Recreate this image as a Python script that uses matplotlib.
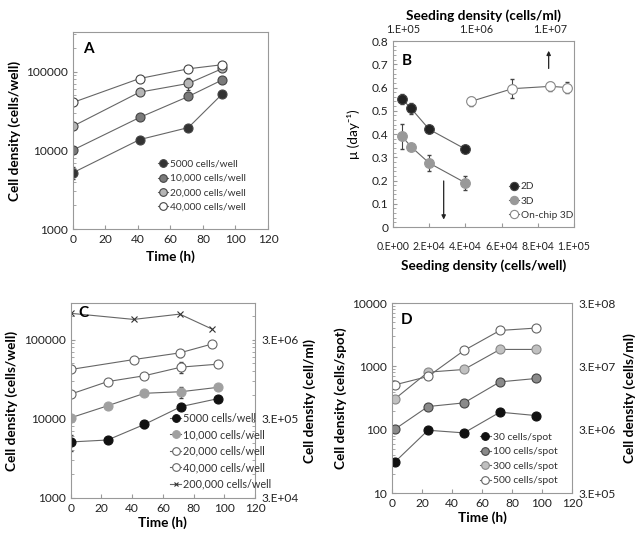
import numpy as np
import matplotlib.pyplot as plt
from matplotlib.ticker import FixedLocator, NullFormatter, LogLocator

plt.rcParams['font.family'] = ['Lato', 'DejaVu Sans']

# ---- panel A data (cells/well vs time) ----
a_labels = ["5000 cells/well", "10,000 cells/well", "20,000 cells/well", "40,000 cells/well"]
a_time = [0, 41, 71, 92]
a_5000 = [5200, 13700, 19500, 52500]
a_10000 = [10100, 26200, 48500, 79000]
a_20000 = [20300, 55000, 71000, 110000]
a_40000 = [40700, 82000, 109000, 123000]
a_err_5000 = [900, 900, 1200, 3000]
a_err_20000 = [0, 0, 12000, 0]

# ---- panel B data (growth rate vs seeding density) ----
b_x_2d = [5000, 10000, 20000, 40000]
b_y_2d = [0.55, 0.51, 0.42, 0.335]
b_e_2d = [0.02, 0.025, 0.008, 0.008]
b_x_3d = [5000, 10000, 20000, 40000]
b_y_3d = [0.39, 0.345, 0.275, 0.19]
b_e_3d = [0.055, 0.008, 0.035, 0.03]
b_x_chip = [43000, 66000, 87000, 96000]
b_y_chip = [0.54, 0.595, 0.605, 0.60]
b_e_chip = [0.02, 0.04, 0.02, 0.025]

# ---- panel C data ----
c_labels = ["5000 cells/well", "10,000 cells/well", "20,000 cells/well",
            "40,000 cells/well", "200,000 cells/well"]
c_time = [0, 24, 48, 72, 96]
c_5000 = [5100, 5400, 8500, 14300, 18000]
c_10000 = [10300, 14600, 21000, 22000, 25000]
c_20000 = [20500, 29500, 35000, 45000, 49000]
c_time2 = [0, 41, 71, 92]
c_40000 = [42000, 56000, 68000, 88000]
c_200000 = [215000, 180000, 210000, 136000]
c_err_5000 = [1200, 500, 900, 800, 800]
c_err_10000 = [0, 0, 0, 3500, 0]
c_err_20000 = [0, 0, 0, 7000, 0]
c_err_40000 = [0, 0, 7000, 0]

# ---- panel D data ----
d_labels = ["30 cells/spot", "100 cells/spot", "300 cells/spot", "500 cells/spot"]
d_time = [2, 24, 48, 72, 96]
d_30 = [31, 98, 89, 189, 167]
d_100 = [102, 232, 265, 569, 643]
d_300 = [307, 810, 892, 1850, 1850]
d_500 = [511, 692, 1780, 3690, 4020]

line_c = '#666666'
spine_c = '#999999'
tick_fs = 8.6
lab_fs = 9.8


def style(ax):
    for s in ax.spines.values():
        s.set_color(spine_c)
        s.set_linewidth(0.8)
    ax.tick_params(which='both', direction='in', color=spine_c, labelsize=tick_fs,
                   labelcolor='#222222', top=False, right=False)
    ax.tick_params(which='major', length=3)
    ax.tick_params(which='minor', length=2)


def series(ax, x, y, face, label, err=None, marker='o', ms=6.5, edge='#444444'):
    if err is not None:
        ax.errorbar(x, y, yerr=err, fmt='none', ecolor='#444444', elinewidth=0.8,
                    capsize=1.5)
    ax.plot(x, y, color=line_c, lw=0.8, marker=marker, ms=ms, mfc=face, mec=edge,
            mew=0.8, label=label)


def legend(ax, loc, anchor, fs=7.5):
    lg = ax.legend(loc=loc, bbox_to_anchor=anchor, frameon=False, fontsize=fs,
                   handlelength=1.0, handletextpad=0.2, labelspacing=0.5,
                   borderpad=0.2, markerscale=0.85)
    for t in lg.get_texts():
        t.set_color('#333333')


fig = plt.figure(figsize=(6.43, 5.41), dpi=100)

# ---------------- A ----------------
ax = fig.add_axes([0.1135, 0.5767, 0.3033, 0.3641])
series(ax, a_time, a_5000, '#333333', a_labels[0], a_err_5000)
series(ax, a_time, a_10000, '#7a7a7a', a_labels[1])
series(ax, a_time, a_20000, '#b5b5b5', a_labels[2], a_err_20000)
series(ax, a_time, a_40000, 'white', a_labels[3])
ax.set_yscale('log')
ax.set_ylim(1000, 320000)
ax.set_xlim(0, 120)
ax.set_xticks(np.arange(0, 121, 20))
ax.set_yticks([1000, 10000, 100000])
ax.set_yticklabels(['1000', '10000', '100000'])
ax.yaxis.set_minor_formatter(NullFormatter())
style(ax)
ax.set_xlabel('Time (h)', fontsize=lab_fs, fontweight='bold')
ax.set_ylabel('Cell density (cells/well)', fontsize=lab_fs, fontweight='bold')
ax.text(0.05, 0.95, 'A', transform=ax.transAxes, fontsize=11, fontweight='bold',
        va='top')
legend(ax, 'center left', (0.4, 0.22), fs=7.3)

# ---------------- B ----------------
ax = fig.add_axes([0.6112, 0.5804, 0.2815, 0.3438])
series(ax, b_x_2d, b_y_2d, '#222222', '2D', b_e_2d, ms=7)
series(ax, b_x_3d, b_y_3d, '#999999', '3D', b_e_3d, ms=7, edge='#999999')
series(ax, b_x_chip, b_y_chip, 'white', 'On-chip 3D', b_e_chip, ms=7, edge='#888888')
ax.annotate('', xy=(28000, 0.02), xytext=(28000, 0.21),
            arrowprops=dict(arrowstyle='-|>', color='#222222', lw=0.9,
                            mutation_scale=6))
ax.annotate('', xy=(86000, 0.77), xytext=(86000, 0.67),
            arrowprops=dict(arrowstyle='-|>', color='#222222', lw=0.9,
                            mutation_scale=6))
ax.set_xlim(0, 100000)
ax.set_ylim(0, 0.8)
ax.set_xticks(np.arange(0, 100001, 20000))
ax.set_xticklabels(['0.E+00', '2.E+04', '4.E+04', '6.E+04', '8.E+04', '1.E+05'])
ax.set_yticks(np.arange(0, 0.81, 0.1))
ax.set_yticklabels(['0', '0.1', '0.2', '0.3', '0.4', '0.5', '0.6', '0.7', '0.8'])
ax.yaxis.set_minor_locator(FixedLocator(np.arange(0, 0.8, 0.02)))
style(ax)
ax.tick_params(axis='x', pad=10, labelsize=7.6)
ax.set_xlabel('Seeding density (cells/well)', fontsize=lab_fs, fontweight='bold',
              labelpad=5)
ax.set_ylabel('μ (day⁻¹)', fontsize=lab_fs, labelpad=8)
ax.text(0.05, 0.93, 'B', transform=ax.transAxes, fontsize=11, fontweight='bold',
        va='top')
legend(ax, 'center left', (0.6, 0.14), fs=7.3)
top = ax.twiny()
top.set_xscale('log')
top.set_xlim(7.3e4, 2.1e7)
top.set_xticks([1e5, 1e6, 1e7])
top.set_xticklabels(['1.E+05', '1.E+06', '1.E+07'])
top.xaxis.set_minor_locator(FixedLocator([]))
for s in top.spines.values():
    s.set_visible(False)
top.tick_params(axis='x', length=0, labelsize=7.8, labelcolor='#222222', pad=4)
top.set_xlabel('Seeding density (cells/ml)', fontsize=lab_fs, fontweight='bold',
               labelpad=3)

# ---------------- C ----------------
ax = fig.add_axes([0.11, 0.0795, 0.2866, 0.3604])
series(ax, c_time, c_5000, '#111111', c_labels[0], c_err_5000, edge='#111111')
series(ax, c_time, c_10000, '#a0a0a0', c_labels[1], c_err_10000, edge='#a0a0a0')
series(ax, c_time, c_20000, 'white', c_labels[2], c_err_20000, edge='#666666')
series(ax, c_time2, c_40000, 'white', c_labels[3], c_err_40000, edge='#666666')
series(ax, c_time2, c_200000, 'none', c_labels[4], marker='x', ms=4, edge='#333333')
ax.set_yscale('log')
ax.set_ylim(1000, 290000)
ax.set_xlim(0, 120)
ax.set_xticks(np.arange(0, 121, 20))
ax.set_yticks([1000, 10000, 100000])
ax.set_yticklabels(['1000', '10000', '100000'])
ax.yaxis.set_minor_formatter(NullFormatter())
style(ax)
ax.set_xlabel('Time (h)', fontsize=lab_fs, fontweight='bold', labelpad=2)
ax.set_ylabel('Cell density (cells/well)', fontsize=lab_fs, fontweight='bold')
ax.text(0.04, 0.985, 'C', transform=ax.transAxes, fontsize=11, fontweight='bold',
        va='top')
legend(ax, 'center left', (0.5, 0.24), fs=7.8)
r = ax.twinx()
r.set_yscale('log')
r.set_ylim(3e4, 290000 * 30)
r.set_yticks([3e4, 3e5, 3e6])
r.set_yticklabels(['3.E+04', '3.E+05', '3.E+06'])
r.yaxis.set_minor_locator(LogLocator(base=10, subs=np.arange(2, 10) * 0.3))
r.yaxis.set_minor_formatter(NullFormatter())
for s in r.spines.values():
    s.set_visible(False)
r.tick_params(which='both', direction='in', color=spine_c, labelsize=tick_fs,
              labelcolor='#222222', length=2, pad=5)
r.set_ylabel('Cell density (cell/ml)', fontsize=lab_fs, fontweight='bold',
             labelpad=3)

# ---------------- D ----------------
ax = fig.add_axes([0.6096, 0.0887, 0.28, 0.3512])
series(ax, d_time, d_30, '#111111', d_labels[0], edge='#111111')
series(ax, d_time, d_100, '#8a8a8a', d_labels[1])
series(ax, d_time, d_300, '#c0c0c0', d_labels[2], edge='#888888')
series(ax, d_time, d_500, 'white', d_labels[3], edge='#666666')
ax.set_yscale('log')
ax.set_ylim(10, 10000)
ax.set_xlim(0, 120)
ax.set_xticks(np.arange(0, 121, 20))
ax.set_yticks([10, 100, 1000, 10000])
ax.set_yticklabels(['10', '100', '1000', '10000'])
ax.yaxis.set_minor_formatter(NullFormatter())
style(ax)
ax.set_xlabel('Time (h)', fontsize=lab_fs, fontweight='bold', labelpad=2)
ax.set_ylabel('Cell density (cells/spot)', fontsize=lab_fs, fontweight='bold')
ax.text(0.05, 0.95, 'D', transform=ax.transAxes, fontsize=11, fontweight='bold',
        va='top')
legend(ax, 'center left', (0.45, 0.18))
r = ax.twinx()
r.set_yscale('log')
r.set_ylim(3e5, 3e8)
r.set_yticks([3e5, 3e6, 3e7, 3e8])
r.set_yticklabels(['3.E+05', '3.E+06', '3.E+07', '3.E+08'])
r.yaxis.set_minor_locator(FixedLocator([]))
for s in r.spines.values():
    s.set_visible(False)
r.tick_params(which='both', direction='in', length=0, labelsize=tick_fs,
              labelcolor='#222222', pad=5)
r.set_ylabel('Cell density (cells/ml)', fontsize=lab_fs, fontweight='bold',
             labelpad=5)

fig.savefig('out.png', dpi=100)
